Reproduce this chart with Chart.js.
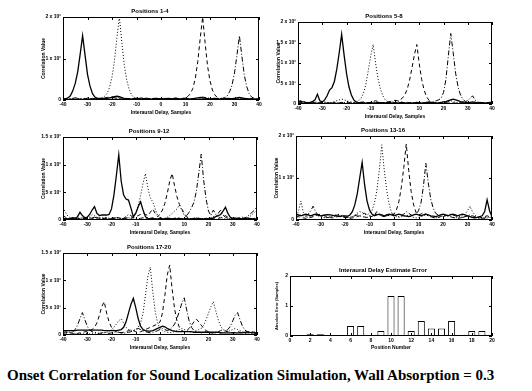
<!DOCTYPE html>
<html>
<head>
<meta charset="utf-8">
<script src="https://cdn.jsdelivr.net/npm/chart.js@4.4.1/dist/chart.umd.min.js"></script>
<style>
  body { margin: 0; background: #fff; width: 532px; height: 391px; position: relative; overflow: hidden; }
  canvas { position: absolute; }
  #caption { position: absolute; left: 7px; top: 368px; font: bold 15px 'Liberation Serif', 'Times New Roman', serif; line-height: 1; color: #000; white-space: nowrap; }
</style>
</head>
<body>
<canvas id="c1" width="224" height="108" style="left:41px;top:8px"></canvas>
<canvas id="c2" width="222" height="107" style="left:276px;top:13px"></canvas>
<canvas id="c3" width="222" height="108" style="left:41px;top:128px"></canvas>
<canvas id="c4" width="224" height="109" style="left:274px;top:127px"></canvas>
<canvas id="c5" width="222" height="107" style="left:41px;top:244px"></canvas>
<canvas id="c6" width="224" height="84" style="left:274px;top:267px"></canvas>
<div id="caption">Onset Correlation for Sound Localization Simulation, Wall Absorption = 0.3</div>
<script>
// interaural delay (samples)
const lags = [
  -40,-39,-38,-37,-36,-35,-34,-33,-32,-31,
  -30,-29,-28,-27,-26,-25,-24,-23,-22,-21,
  -20,-19,-18,-17,-16,-15,-14,-13,-12,-11,
  -10,-9,-8,-7,-6,-5,-4,-3,-2,-1,
  0,1,2,3,4,5,6,7,8,9,
  10,11,12,13,14,15,16,17,18,19,
  20,21,22,23,24,25,26,27,28,29,
  30,31,32,33,34,35,36,37,38,39,
  40
];

// Positions 1-4
const p1Solid = [3,3,5,10,22,40,68,110,155,108, 62,34,16,7,4,4,4,4,4,5, 6,8,9,8,6,4,3,3,2,3, 4,3,2,3,4,3,2,3,4,3, 3,2,3,4,3,2,3,3,2,3, 4,3,2,3,4,5,6,5,4,3, 2,3,4,3,2,2,3,4,3,3, 4,5,6,5,4,3,2,3,2,2, 2];
const p1Dotted = [2,2,2,3,4,5,4,3,3,4, 5,4,3,2,3,4,6,9,16,30, 55,95,150,200,140,85,48,26,12,6, 4,3,2,3,4,3,2,3,4,3, 2,3,4,3,2,3,4,3,2,3, 3,2,3,4,3,2,3,4,5,4, 3,2,3,4,3,2,3,4,3,2, 3,4,5,4,3,2,3,2,2,2, 2];
const p1Dashed = [2,2,3,2,2,3,2,2,3,2, 2,3,4,3,2,3,4,5,6,7, 8,7,6,5,4,3,2,3,4,3, 3,4,5,4,3,2,3,4,3,2, 3,4,3,2,3,4,5,4,3,4, 6,9,15,28,52,92,148,200,138,82, 46,24,12,6,4,3,2,3,4,3, 2,3,4,3,2,3,2,2,2,2, 2];
const p1DashDot = [2,2,2,3,4,5,4,3,2,3, 4,3,2,3,4,3,2,3,4,5, 6,5,4,3,2,3,4,3,2,3, 4,3,2,3,4,3,2,3,4,3, 2,3,4,3,2,3,4,3,2,3, 4,3,2,3,4,5,6,7,6,5, 4,3,2,3,4,4,6,10,20,36, 65,108,155,106,60,32,15,7,4,3, 2];

// Positions 5-8
const p2Solid = [4,6,5,4,3,4,6,10,24,8, 5,10,20,34,40,55,85,125,170,120, 75,42,22,10,5,3,4,3,2,3, 3,2,3,4,3,2,3,4,3,2, 3,2,3,4,3,2,3,2,3,4, 3,2,3,4,5,4,3,2,3,4, 5,6,8,10,12,10,8,6,5,4, 3,4,5,4,3,4,3,2,3,4, 3];
const p2Dotted = [3,4,6,5,4,3,4,5,4,3, 4,5,4,3,4,6,8,10,12,10, 8,6,5,4,5,8,14,26,48,82, 118,145,100,62,36,20,10,6,4,5, 6,8,6,4,3,4,3,2,3,4, 3,2,3,4,3,2,3,4,3,2, 3,4,6,8,6,4,3,2,3,4, 3,2,3,4,3,2,3,4,3,2, 2];
const p2Dashed = [2,3,4,3,2,3,4,3,2,3, 4,3,2,3,4,3,2,3,4,3, 2,3,4,3,2,3,4,5,4,3, 4,6,8,6,4,3,4,5,6,8, 9,8,10,14,22,35,58,88,120,145, 98,60,34,18,9,5,3,4,3,2, 3,4,5,4,3,2,3,4,3,2, 3,2,3,4,3,2,3,2,3,2, 2];
const p2DashDot = [6,8,5,4,3,4,5,4,3,2, 3,4,3,2,3,4,3,2,3,4, 3,2,3,4,3,2,3,4,3,2, 3,4,3,2,3,4,3,2,3,4, 3,2,3,4,3,2,3,4,3,2, 3,4,3,2,3,4,6,8,10,14, 28,60,118,172,125,75,42,22,12,6, 8,14,20,10,5,3,2,3,2,2, 2];

// Positions 9-12
const p3Solid = [3,2,2,3,4,3,6,14,8,4, 5,10,18,24,12,8,9,9,9,10, 20,45,80,118,70,45,38,36,22,6, 12,24,33,18,6,3,2,3,2,2, 3,2,2,3,2,2,3,2,3,2, 2,3,2,2,3,2,3,2,2,3, 2,3,4,6,8,10,16,23,12,5, 3,2,3,2,2,3,2,3,2,2, 2];
const p3Dotted = [23,14,7,4,3,2,3,4,3,2, 3,6,10,8,5,3,4,5,4,3, 2,3,4,3,2,3,5,4,3,6, 14,26,44,66,84,58,40,33,20,8, 4,3,3,5,8,12,16,20,27,18, 8,4,3,2,3,4,3,2,3,2, 3,4,6,8,6,4,3,2,3,4, 3,2,3,4,5,4,3,6,10,14, 18];
const p3Dashed = [8,5,3,2,3,4,3,2,3,2, 3,4,3,2,3,4,3,2,3,2, 3,4,5,4,3,2,3,4,3,4, 6,8,10,12,10,8,14,20,12,6, 10,18,30,48,70,84,62,42,28,20, 12,6,3,2,3,4,3,2,3,2, 3,2,3,4,3,4,6,8,5,3, 2,3,4,3,2,3,4,3,2,3, 4];
const p3DashDot = [2,3,2,3,4,3,2,3,4,3, 2,3,4,5,4,3,2,3,4,3, 2,3,4,3,2,3,6,10,8,4, 3,2,3,4,3,2,3,4,3,2, 3,2,3,4,3,2,3,4,3,2, 4,8,14,22,32,52,85,119,72,38, 16,8,18,10,12,18,9,5,3,2, 3,4,3,2,3,4,6,10,14,18, 24];

// Positions 13-16
const p4Solid = [14,12,10,12,14,12,10,12,14,12, 10,11,12,13,12,11,10,9,8,10, 10,9,12,20,36,62,100,137,84,45, 24,14,10,12,14,12,10,12,14,12, 10,12,14,12,10,9,8,10,12,14, 12,10,12,14,12,10,9,8,10,12, 14,12,10,12,14,12,10,12,14,12, 10,8,6,5,6,8,10,20,48,22, 8];
const p4Dotted = [10,20,45,18,8,6,8,10,12,10, 8,6,5,6,8,10,12,14,12,10, 8,6,5,8,12,16,20,18,14,12, 16,22,40,70,118,179,120,72,38,18, 10,8,6,8,10,12,10,8,6,5, 6,8,10,12,10,8,6,5,6,8, 10,12,10,8,6,5,6,8,10,14, 22,33,20,12,8,6,5,4,5,6, 6];
const p4Dashed = [6,8,6,5,4,5,6,8,10,12, 14,12,10,8,6,5,6,8,10,8, 6,5,4,5,6,8,10,14,16,12, 10,8,12,20,14,10,8,12,10,14, 14,24,44,78,125,181,118,68,36,18, 12,14,18,14,10,8,6,5,6,8, 10,12,10,8,6,5,4,5,6,8, 10,8,6,5,4,5,6,8,10,8, 6];
const p4DashDot = [8,10,12,10,8,14,22,33,20,12, 10,8,7,6,7,8,10,12,10,8, 7,6,7,8,10,12,10,8,7,6, 8,10,12,14,12,10,8,10,12,14, 12,10,8,10,14,20,16,12,10,14, 22,40,80,135,88,50,28,16,12,10, 8,10,12,14,12,10,8,7,6,8, 10,12,10,8,6,5,4,5,6,8, 10];

// Positions 17-20
const p5Solid = [8,8,8,8,8,8,9,9,9,9, 9,9,9,9,9,9,9,8,8,8, 8,8,8,9,10,14,24,40,56,67, 50,30,16,10,8,7,7,8,10,12, 14,16,15,12,10,8,7,6,6,6, 6,6,6,6,5,5,5,5,5,5, 5,5,5,5,5,4,4,4,4,4, 4,4,4,4,4,5,6,5,4,4, 4];
const p5Dotted = [2,3,4,6,4,3,2,3,2,2, 3,2,3,4,3,2,3,4,5,7, 10,14,20,26,30,22,14,10,8,8, 10,14,22,40,72,108,124,80,44,22, 12,8,6,5,4,5,6,8,10,12, 10,8,6,5,6,8,10,12,18,28, 40,52,61,44,28,16,10,7,6,8, 10,12,10,8,6,5,4,3,4,5, 4];
const p5Dashed = [3,4,5,4,3,2,3,4,5,6, 6,8,10,14,22,36,52,61,40,24, 14,9,6,5,4,5,6,8,10,8, 6,5,6,8,10,12,14,16,18,20, 24,40,72,110,128,84,48,26,14,8, 6,8,12,18,24,29,24,18,12,8, 6,5,4,5,6,8,10,8,6,5, 4,5,6,5,4,3,4,5,6,5, 4];
const p5DashDot = [4,6,5,4,6,10,18,30,41,28, 16,9,6,5,4,3,4,5,4,3, 4,5,6,5,4,3,4,5,6,8, 10,12,10,8,6,5,4,5,6,8, 10,12,10,8,10,14,20,30,44,58, 68,46,26,14,8,6,5,4,5,6, 5,4,3,4,5,4,5,6,10,16, 26,36,41,28,16,9,6,5,4,3, 3];

// estimate error per position
const positions = [1,2,3,4,5,6,7,8,9,10,11,12,13,14,15,16,17,18,19,20];
const absError = [0.03,0.06,0.06,0.03,0.03,0.33,0.33,0.03,0.17,1.33,1.33,0.17,0.5,0.25,0.25,0.5,0.03,0.17,0.17,0.03];

const FONT = "'Liberation Sans', Arial, sans-serif";

// box round the plot with ticks pointing in, like the original
const frame = {
  id: 'frame',
  afterDatasetsDraw(chart) {
    const ctx = chart.ctx;
    const a = chart.chartArea;
    const sx = chart.scales.x, sy = chart.scales.y;
    ctx.save();
    ctx.strokeStyle = '#000';
    ctx.lineWidth = 1;
    ctx.strokeRect(Math.round(a.left) + 0.5, Math.round(a.top) + 0.5, Math.round(a.right - a.left) - 1, Math.round(a.bottom - a.top) - 1);
    ctx.beginPath();
    sx.ticks.forEach(t => {
      const px = Math.round(sx.getPixelForValue(t.value)) + 0.5;
      ctx.moveTo(px, a.bottom); ctx.lineTo(px, a.bottom - 3);
      ctx.moveTo(px, a.top); ctx.lineTo(px, a.top + 3);
    });
    sy.ticks.forEach(t => {
      const py = Math.round(sy.getPixelForValue(t.value)) + 0.5;
      ctx.moveTo(a.left, py); ctx.lineTo(a.left + 3, py);
      ctx.moveTo(a.right, py); ctx.lineTo(a.right - 3, py);
    });
    ctx.stroke();
    ctx.restore();
  }
};

function sci(v) {
  if (v === 0) return '0';
  if (v < 100) return (v / 10) + ' x 10\u00B9';
  return (v / 100) + ' x 10\u00B2';
}

function series(vals, dash, width) {
  return {
    data: lags.map((x, i) => ({ x: x, y: vals[i] })),
    borderColor: '#000',
    borderWidth: width,
    borderDash: dash,
    pointRadius: 0,
    tension: 0,
    fill: false
  };
}

function corrPanel(id, title, ymax, step, sets) {
  new Chart(document.getElementById(id), {
    type: 'line',
    data: {
      datasets: [
        series(sets[0], [], 1.3),
        series(sets[1], [1, 2], 1),
        series(sets[2], [4, 3], 1),
        series(sets[3], [5, 2, 1, 2], 1)
      ]
    },
    options: {
      responsive: false,
      animation: false,
      layout: { padding: { left: 0, right: 6, top: 0, bottom: 0 } },
      plugins: {
        legend: { display: false },
        tooltip: { enabled: false },
        title: { display: true, text: title, color: '#000', font: { family: FONT, size: 6, weight: 'bold', lineHeight: 1 }, padding: { top: 0, bottom: 3 } }
      },
      scales: {
        x: {
          type: 'linear', min: -40, max: 40,
          grid: { display: false, drawTicks: false },
          border: { display: false },
          ticks: { stepSize: 10, color: '#000', padding: 2, maxRotation: 0, font: { family: FONT, size: 5, weight: 'bold' } },
          title: { display: true, text: 'Interaural Delay, Samples', color: '#000', padding: 0, font: { family: FONT, size: 5, weight: 'bold' } },
          afterFit(s) { s.height = 16; }
        },
        y: {
          min: 0, max: ymax,
          grid: { display: false, drawTicks: false },
          border: { display: false },
          ticks: { stepSize: step, color: '#000', padding: 2, callback: sci, font: { family: FONT, size: 5, weight: 'bold' } },
          title: { display: true, text: 'Correlation Value', color: '#000', padding: 0, font: { family: FONT, size: 5, weight: 'bold' } },
          afterFit(s) { s.width = 22; }
        }
      }
    },
    plugins: [frame]
  });
}

corrPanel('c1', 'Positions 1-4', 200, 100, [p1Solid, p1Dotted, p1Dashed, p1DashDot]);
corrPanel('c2', 'Positions 5-8', 200, 50, [p2Solid, p2Dotted, p2Dashed, p2DashDot]);
corrPanel('c3', 'Positions 9-12', 150, 50, [p3Solid, p3Dotted, p3Dashed, p3DashDot]);
corrPanel('c4', 'Positions 13-16', 200, 100, [p4Solid, p4Dotted, p4Dashed, p4DashDot]);
corrPanel('c5', 'Positions 17-20', 150, 50, [p5Solid, p5Dotted, p5Dashed, p5DashDot]);

new Chart(document.getElementById('c6'), {
  type: 'bar',
  data: {
    datasets: [{
      data: positions.map((p, i) => ({ x: p, y: absError[i] })),
      backgroundColor: '#fff',
      borderColor: '#000',
      borderWidth: 1,
      barPercentage: 0.7,
      categoryPercentage: 1
    }]
  },
  options: {
    responsive: false,
    animation: false,
    layout: { padding: { left: 0, right: 6, top: 0, bottom: 0 } },
    plugins: {
      legend: { display: false },
      tooltip: { enabled: false },
      title: { display: true, text: 'Interaural Delay Estimate Error', color: '#000', font: { family: FONT, size: 6, weight: 'bold', lineHeight: 1 }, padding: { top: 0, bottom: 3 } }
    },
    scales: {
      x: {
        type: 'linear', min: 0, max: 20, offset: false,
        grid: { display: false, drawTicks: false, offset: false },
        border: { display: false },
        ticks: { stepSize: 2, color: '#000', padding: 2, maxRotation: 0, font: { family: FONT, size: 5, weight: 'bold' } },
        title: { display: true, text: 'Position Number', color: '#000', padding: 0, font: { family: FONT, size: 5, weight: 'bold' } },
        afterFit(s) { s.height = 15; }
      },
      y: {
        min: 0, max: 2,
        grid: { display: false, drawTicks: false },
        border: { display: false },
        ticks: { stepSize: 1, color: '#000', padding: 2, font: { family: FONT, size: 5, weight: 'bold' } },
        title: { display: true, text: 'Absolute Error (Samples)', color: '#000', padding: 0, font: { family: FONT, size: 4, weight: 'bold' } },
        afterFit(s) { s.width = 16; }
      }
    }
  },
  plugins: [frame]
});
</script>
</body>
</html>
